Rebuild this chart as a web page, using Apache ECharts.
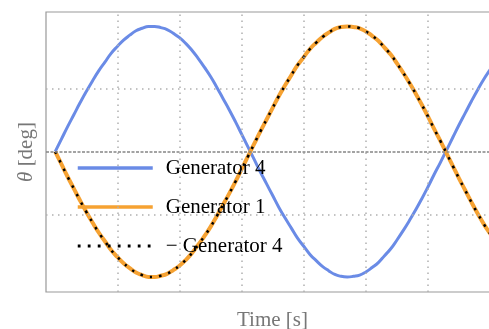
<!DOCTYPE html>
<html>
<head>
<meta charset="utf-8">
<script src="https://cdn.jsdelivr.net/npm/echarts@6/dist/echarts.min.js"></script>
<style>
  html, body { margin: 0; padding: 0; background: #fff; }
  #chart { width: 489px; height: 329px; }
</style>
</head>
<body>
<div id="chart"></div>
<script>
// Sample times (s)
const timeS = [0.0, 0.1, 0.2, 0.3, 0.4, 0.5, 0.6, 0.7, 0.8, 0.9,
  1.0, 1.1, 1.2, 1.3, 1.4, 1.5, 1.6, 1.7, 1.8, 1.9,
  2.0, 2.1, 2.2, 2.3, 2.4, 2.5, 2.6, 2.7, 2.8, 2.9,
  3.0, 3.1, 3.2, 3.3, 3.4, 3.5, 3.6, 3.7, 3.8, 3.9,
  4.0, 4.1, 4.2, 4.3, 4.4, 4.5, 4.6, 4.7, 4.8, 4.9,
  5.0, 5.1, 5.2, 5.3, 5.4, 5.5, 5.6, 5.7, 5.8, 5.9,
  6.0, 6.1, 6.2, 6.3, 6.4, 6.5, 6.6, 6.7, 6.8, 6.9,
  7.0, 7.1, 7.2];
// Rotor angle of generator 4
const gen4 = [0.00, 0.20, 0.40, 0.59, 0.78, 0.96, 1.13, 1.29, 1.43, 1.57,
  1.68, 1.78, 1.86, 1.93, 1.97, 2.00, 2.00, 1.98, 1.95, 1.89,
  1.82, 1.73, 1.62, 1.49, 1.35, 1.20, 1.03, 0.85, 0.67, 0.48,
  0.28, 0.08, -0.12, -0.32, -0.51, -0.70, -0.89, -1.06, -1.22, -1.38,
  -1.51, -1.64, -1.74, -1.83, -1.90, -1.96, -1.99, -2.00, -1.99, -1.97,
  -1.92, -1.85, -1.77, -1.66, -1.55, -1.41, -1.26, -1.10, -0.93, -0.75,
  -0.56, -0.36, -0.17, 0.03, 0.23, 0.43, 0.62, 0.81, 0.99, 1.16,
  1.31, 1.46, 1.59];
// Rotor angle of generator 1
const gen1 = [0.00, -0.20, -0.40, -0.59, -0.78, -0.96, -1.13, -1.29, -1.43, -1.57,
  -1.68, -1.78, -1.86, -1.93, -1.97, -2.00, -2.00, -1.98, -1.95, -1.89,
  -1.82, -1.73, -1.62, -1.49, -1.35, -1.20, -1.03, -0.85, -0.67, -0.48,
  -0.28, -0.08, 0.12, 0.32, 0.51, 0.70, 0.89, 1.06, 1.22, 1.38,
  1.51, 1.64, 1.74, 1.83, 1.90, 1.96, 1.99, 2.00, 1.99, 1.97,
  1.92, 1.85, 1.77, 1.66, 1.55, 1.41, 1.26, 1.10, 0.93, 0.75,
  0.56, 0.36, 0.17, -0.03, -0.23, -0.43, -0.62, -0.81, -0.99, -1.16,
  -1.31, -1.46, -1.59];
const seriesNames = ['Generator 4', 'Generator 1', '\u2212 Generator 4'];
const gridTimes = [1, 2, 3, 4, 5, 6];
const gridAngles = [-1, 1];

const pairs = (vals) => timeS.map((t, i) => [t, vals[i]]);
// the third trace is generator 4 with its sign flipped
const negGen4 = gen4.map(v => -v);

const serif = '"Liberation Serif", "Times New Roman", serif';
const gridDot = { color: '#b0b0b0', width: 1.5, type: [1.5, 4.5] };
const blue = '#6a8be6';
const orange = '#f6a232';
const dotted = [2.5, 7];

const chart = echarts.init(document.getElementById('chart'), null, { renderer: 'canvas' });
chart.setOption({
  animation: false,
  backgroundColor: '#fff',
  grid: {
    left: 46, top: 12, right: -10, bottom: 37,
    outerBoundsMode: 'none', containLabel: false,
    show: true, borderColor: '#999', borderWidth: 1.2, backgroundColor: 'transparent'
  },
  xAxis: {
    type: 'value', min: -0.148, max: 7.142,
    name: 'Time [s]', nameLocation: 'middle', nameGap: 18,
    nameTextStyle: { fontFamily: serif, fontSize: 21, color: '#777' },
    axisLine: { show: false }, axisTick: { show: false }, axisLabel: { show: false },
    splitLine: { show: false }
  },
  yAxis: {
    type: 'value', min: -2.24, max: 2.23,
    name: '{i|\u03b8} [deg]', nameLocation: 'middle', nameGap: 9, nameRotate: 90,
    nameTextStyle: {
      fontFamily: serif, fontSize: 21, color: '#777',
      rich: { i: { fontFamily: serif, fontSize: 21, color: '#777', fontStyle: 'italic' } }
    },
    axisLine: { show: false }, axisTick: { show: false }, axisLabel: { show: false },
    splitLine: { show: false }
  },
  legend: {
    data: [
      { name: seriesNames[0], lineStyle: { color: blue, width: 3.3 } },
      { name: seriesNames[1], lineStyle: { color: orange, width: 3.5 } },
      { name: seriesNames[2], lineStyle: { color: '#000', width: 2.8, type: [2.8, 7.2] } }
    ],
    orient: 'vertical', left: 76, top: 156, padding: 0,
    itemWidth: 75, itemHeight: 14, itemGap: 15,
    itemStyle: { opacity: 0 },
    textStyle: { fontFamily: serif, fontSize: 21, color: '#000', lineHeight: 24, padding: [0, 0, 0, 8] }
  },
  series: [
    {
      // reference grid: dotted time/angle lines and the zero line
      type: 'line', name: 'grid', data: [], z: 1, silent: true,
      markLine: {
        silent: true, symbol: 'none', label: { show: false }, animation: false,
        data: gridTimes.map(t => ({ xAxis: t, lineStyle: gridDot }))
          .concat(gridAngles.map(a => ({ yAxis: a, lineStyle: gridDot })))
          .concat([{ yAxis: 0, lineStyle: { color: '#858585', width: 1.5, type: [3, 1.5] } }])
      }
    },
    {
      name: seriesNames[0], type: 'line', data: pairs(gen4), smooth: true, symbol: 'none', z: 3,
      lineStyle: { color: blue, width: 3 }, itemStyle: { color: blue }
    },
    {
      name: seriesNames[1], type: 'line', data: pairs(gen1), smooth: true, symbol: 'none', z: 3,
      lineStyle: { color: orange, width: 4 }, itemStyle: { color: orange }
    },
    {
      name: seriesNames[2], type: 'line', data: pairs(negGen4), smooth: true, symbol: 'none', z: 4,
      lineStyle: { color: '#000', width: 2.5, type: dotted }, itemStyle: { color: '#000' }
    }
  ]
});
</script>
</body>
</html>
